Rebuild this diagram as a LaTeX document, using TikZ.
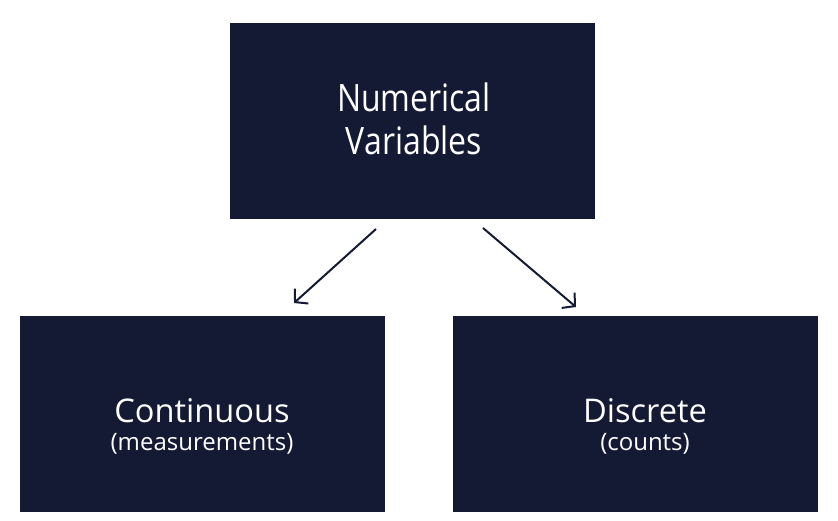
\documentclass[tikz,border=0pt]{standalone}
\usepackage{fontspec}
\usepackage{graphicx}
\setmainfont{Open Sans}
\usetikzlibrary{arrows.meta}
\definecolor{navy}{HTML}{141A33}
\begin{document}
\begin{tikzpicture}[x=1pt,y=-1pt,
  box/.style={fill=navy, draw=none, minimum width=365pt, minimum height=196pt, inner sep=0pt},
  title/.style={text=white, anchor=base, inner sep=0pt, font=\fontsize{32.6}{36}\selectfont},
  sub/.style={text=white, anchor=base, inner sep=0pt, font=\fontsize{24}{28}\selectfont},
  link/.style={draw=navy, line width=2pt, -{Straight Barb[length=9pt,width=20pt,line width=2pt]}}]
  \useasboundingbox (0,0) rectangle (838,520);
  % boxes
  \node[box] (num) at (412.5,121) {};
  \node[box] (cont) at (202,414) {};
  \node[box] (disc) at (635.5,414) {};
  % labels
  \node[text=white, anchor=base, inner sep=0pt] (numtxt) at (414,111.7)
    {\scalebox{1}[1.18]{\fontsize{32}{36}\selectfont\begin{tabular}[t]{@{}c@{}}Numerical\\Variables\end{tabular}}};
  \node[title] (conttxt) at (202,422) {Continuous};
  \node[sub] (contsub) at (202,450.5) {(measurements)};
  \node[title] (disctxt) at (645,422) {Discrete};
  \node[sub] (discsub) at (645,450.5) {(counts)};
  % arrows
  \coordinate (l0) at (376,229);
  \coordinate (l1) at (294,303);
  \coordinate (r0) at (483,228);
  \coordinate (r1) at (576,307);
  \draw[link] (l0) -- (l1);
  \draw[link] (r0) -- (r1);
\end{tikzpicture}
\end{document}
